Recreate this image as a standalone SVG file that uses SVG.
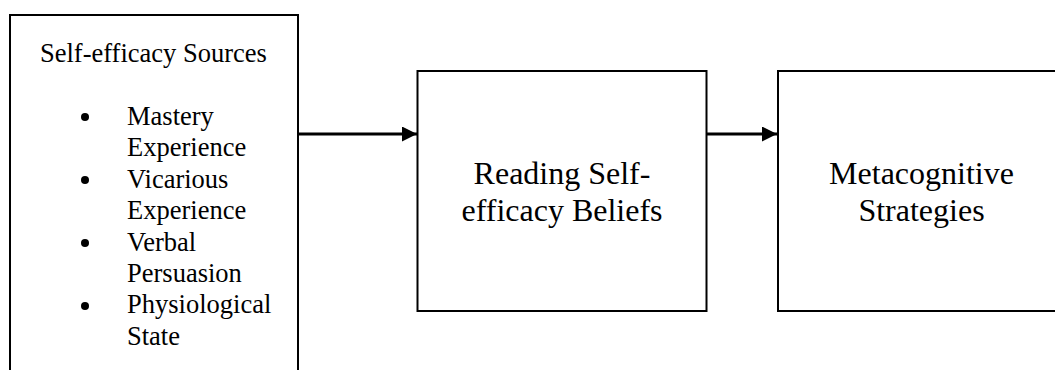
<svg xmlns="http://www.w3.org/2000/svg" width="1055" height="370" viewBox="0 0 1055 370">
<style>
.box{fill:#fff;stroke:#000;stroke-width:2}
text{font-family:'Liberation Serif','Times New Roman',Times,serif;fill:#000}
.s{font-size:26.5px}
.b{font-size:32px;text-anchor:middle}
.c{stroke:#000;stroke-width:3;fill:none}
</style>
<defs>
<marker id="ah" markerWidth="15" markerHeight="15" refX="15" refY="7.5" orient="auto" markerUnits="userSpaceOnUse">
<path d="M0,0 L15,7.5 L0,15 Z" fill="#000"/>
</marker>
</defs>
<g id="sources">
<path class="box" d="M10,375 L10,15 L298,15 L298,375"/>
<text class="s" x="40" y="62">Self-efficacy Sources</text>
<g fill="#000">
<circle cx="85" cy="117" r="4"/>
<circle cx="85" cy="180" r="4"/>
<circle cx="85" cy="243" r="4"/>
<circle cx="85" cy="306" r="4"/>
</g>
<text class="s" x="127" y="125">Mastery</text>
<text class="s" x="127" y="156.4">Experience</text>
<text class="s" x="127" y="187.8">Vicarious</text>
<text class="s" x="127" y="219.2">Experience</text>
<text class="s" x="127" y="250.6">Verbal</text>
<text class="s" x="127" y="282">Persuasion</text>
<text class="s" x="127" y="313.4">Physiological</text>
<text class="s" x="127" y="344.8">State</text>
</g>
<g id="beliefs">
<rect class="box" x="417.5" y="71" width="289" height="240"/>
<text class="b" x="562" y="184">Reading Self-</text>
<text class="b" x="562" y="221">efficacy Beliefs</text>
</g>
<g id="strategies">
<rect class="box" x="778" y="71" width="290" height="240"/>
<text class="b" x="921.5" y="184">Metacognitive</text>
<text class="b" x="921.5" y="221">Strategies</text>
</g>
<g id="connectors">
<line class="c" x1="298" y1="134" x2="417" y2="134" marker-end="url(#ah)"/>
<line class="c" x1="707" y1="134" x2="777" y2="134" marker-end="url(#ah)"/>
</g>
</svg>
